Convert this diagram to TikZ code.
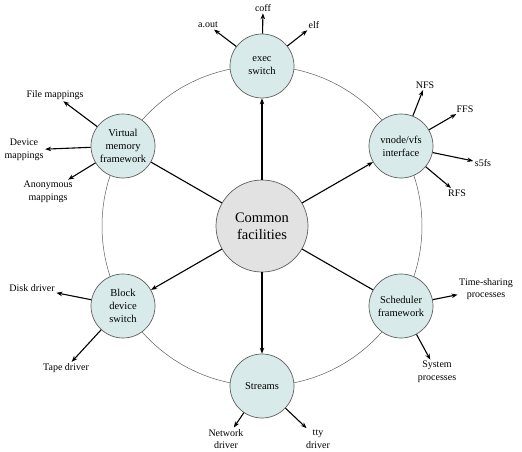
\documentclass[tikz,border=0pt]{standalone}
\usepackage{fontspec}
\setmainfont{Liberation Serif}
\usepackage{xcolor}
\usepackage{tikz}
\usetikzlibrary{arrows.meta}

\definecolor{satfill}{RGB}{216,234,234}
\definecolor{hubfill}{RGB}{226,226,226}
\definecolor{rimgray}{RGB}{95,95,95}

\begin{document}
\begin{tikzpicture}[
  x=1pt, y=-1pt,
  >={Stealth[length=6pt,width=4.5pt]},
  every node/.style={font=\fontsize{10}{12.5}\selectfont},
  hub/.style={circle, draw=rimgray, line width=0.7pt, fill=hubfill,
    minimum size=92pt, inner sep=0pt, align=center,
    font=\fontsize{14.5}{17}\selectfont},
  sat/.style={circle, draw=rimgray, line width=0.7pt, fill=satfill,
    minimum size=64pt, inner sep=0pt, align=center,
    font=\fontsize{10.5}{13}\selectfont},
  lbl/.style={inner sep=1.5pt, align=center},
  arr/.style={->, line width=1.1pt},
  spoke/.style={line width=1.1pt},
  ring/.style={draw=rimgray, line width=0.5pt},
]
\fill[white] (0,0) rectangle (522,452);
\useasboundingbox (0,0) rectangle (522,452);

% === Ring ===
\draw[ring] (262,226) circle[radius=160];

% === Hub and satellites ===
\node[hub] (common) at (262,226) {Common\\facilities};
\node[sat] (exec) at (262,66) {exec\\switch};
\node[sat] (vnode) at (401,146) {vnode/vfs\\interface};
\node[sat] (sched) at (401,306) {Scheduler\\framework};
\node[sat] (streams) at (262,386) {Streams};
\node[sat] (block) at (123,306) {Block\\device\\switch};
\node[sat] (vm) at (123,146) {Virtual\\memory\\framework};

% === Spokes ===
\draw[arr] (common) -- (exec);
\draw[arr] (common) -- (vnode);
\draw[spoke] (common) -- (sched);
\draw[arr] (common) -- (streams);
\draw[arr] (common) -- (block);
\draw[spoke] (common) -- (vm);

% === exec switch ===
\node[lbl] (aout) at (208,25) {a.out};
\node[lbl] (coff) at (263,8) {coff};
\node[lbl] (elf) at (314,25) {elf};
\draw[arr] (exec) -- (aout);
\draw[arr] (exec) -- (coff);
\draw[arr] (exec) -- (elf);

% === vnode/vfs interface ===
\node[lbl] (nfs) at (425,85) {NFS};
\node[lbl] (ffs) at (465,109) {FFS};
\node[lbl] (s5fs) at (483,163) {s5fs};
\node[lbl] (rfs) at (457,193) {RFS};
\draw[arr] (vnode) -- (nfs);
\draw[arr] (vnode) -- (ffs);
\draw[arr] (vnode) -- (s5fs);
\draw[arr] (vnode) -- (rfs);

% === Scheduler framework ===
\node[lbl] (tshare) at (486,289) {Time-sharing\\processes};
\node[lbl] (sysproc) at (437,372) {System\\processes};
\draw[arr] (sched) -- (tshare);
\draw[arr] (sched) -- (sysproc);

% === Streams ===
\node[lbl] (netdrv) at (226,439) {Network\\driver};
\node[lbl] (ttydrv) at (318,439) {tty\\driver};
\draw[arr] (streams) -- (netdrv);
\draw[arr] (streams) -- (ttydrv);

% === Block device switch ===
\node[lbl] (disk) at (32,288) {Disk driver};
\node[lbl] (tape) at (66,368) {Tape driver};
\draw[arr] (block) -- (disk);
\draw[arr] (block) -- (tape);

% === Virtual memory framework ===
\node[lbl] (filemap) at (55,95) {File mappings};
\node[lbl] (devmap) at (24,150) {Device\\mappings};
\node[lbl] (anonmap) at (48,192) {Anonymous\\mappings};
\draw[arr] (vm) -- (filemap);
\draw[arr] (vm) -- (devmap);
\draw[arr] (vm) -- (anonmap);

\end{tikzpicture}
\end{document}
